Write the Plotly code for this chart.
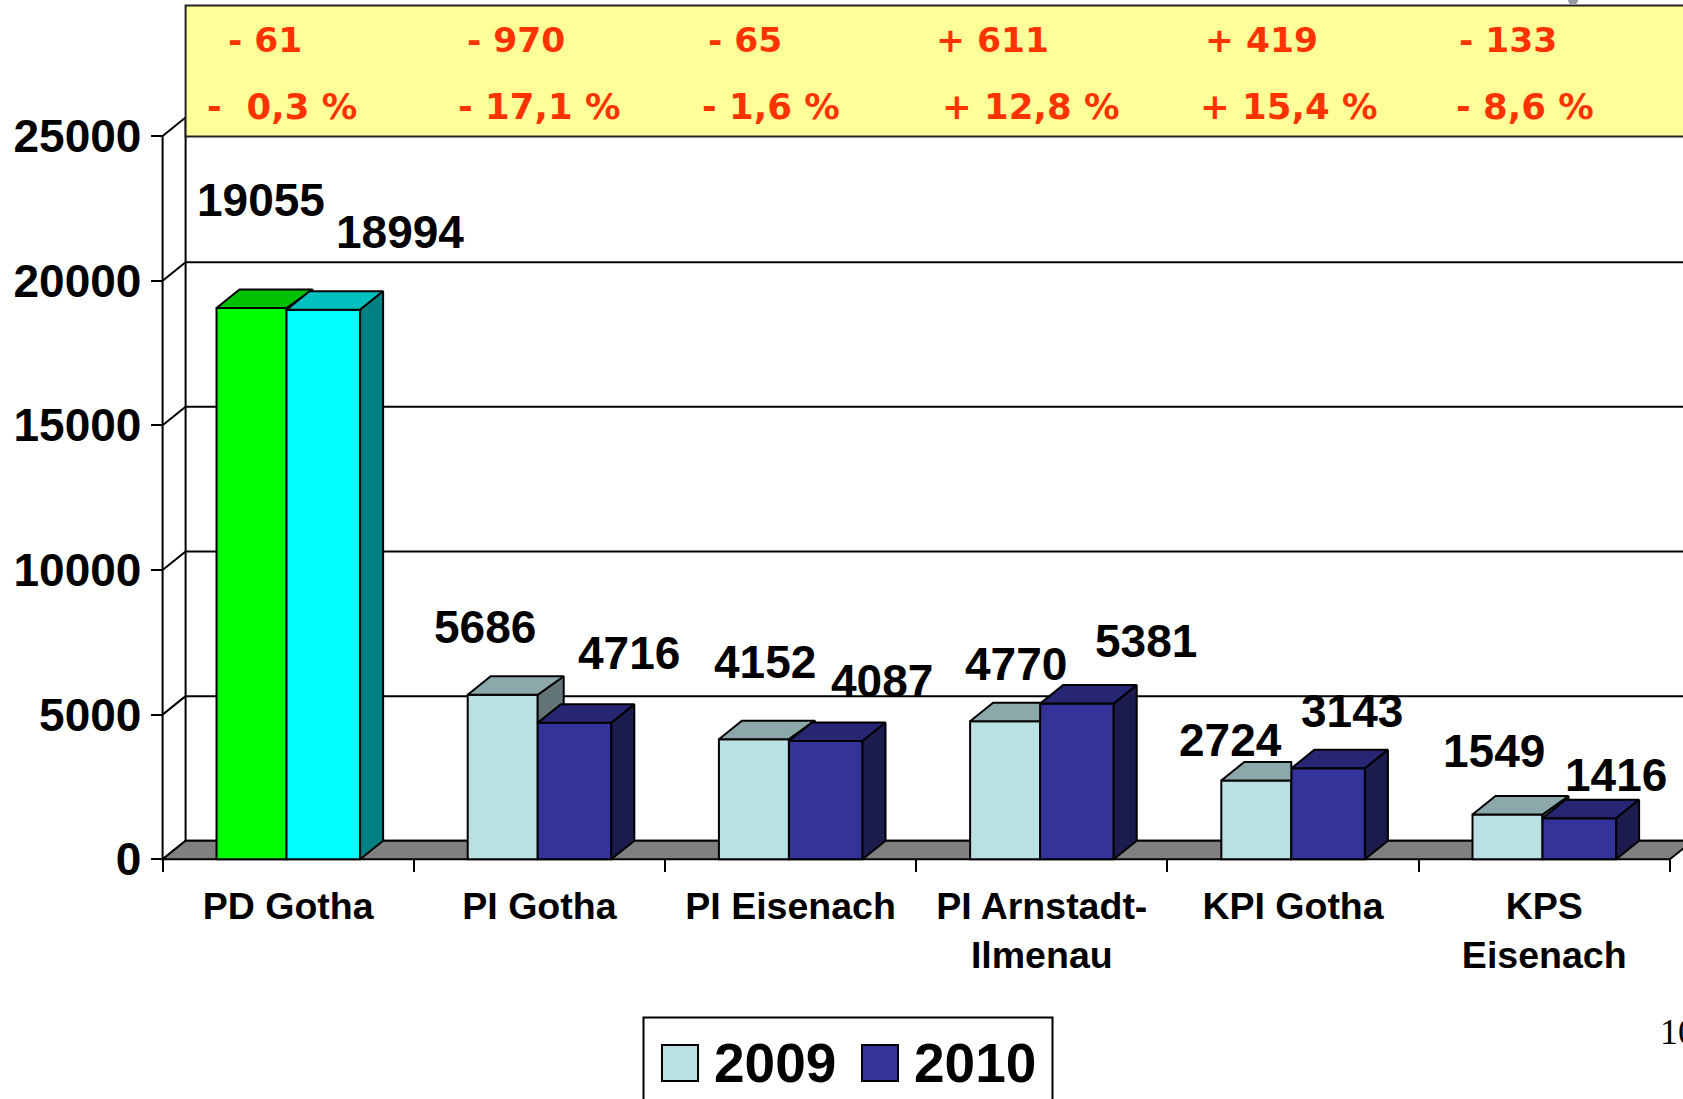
import plotly.graph_objects as go

# ---------- data ----------
categories = ["PD Gotha", "PI Gotha", "PI Eisenach", "PI Arnstadt-<br>Ilmenau", "KPI Gotha", "KPS<br>Eisenach"]
values_2009 = [19055, 5686, 4152, 4770, 2724, 1549]
values_2010 = [18994, 4716, 4087, 5381, 3143, 1416]
diff_abs = ["- 61", "- 970", "- 65", "+ 611", "+ 419", "- 133"]
diff_pct = ["-  0,3 %", "- 17,1 %", "- 1,6 %", "+ 12,8 %", "+ 15,4 %", "- 8,6 %"]
y_ticks = [0, 5000, 10000, 15000, 20000, 25000]

# ---------- layout constants (pixels) ----------
W, H = 1683, 1099
X0, CAT_W = 162.6, 251.2
Y0, PX_PER_UNIT = 859.3, 144.66 / 5000
DX, DY = 23 / CAT_W, 18.5 / PX_PER_UNIT
DXA = 26 / CAT_W

def ux(px):
    return (px - X0) / CAT_W

def uy(py):
    return (Y0 - py) / PX_PER_UNIT

A_START, A_W, B_W = 0.2146, 0.2787, 0.293
BLACK = "#000000"
FONT = "Liberation Sans"

fig = go.Figure()

# per-point colours: first group highlighted
front_a = ["#00FF00"] + ["#BBE0E3"] * 5
top_a = ["#00C000"] + ["#8DA8AA"] * 5
side_a = ["#008000"] + ["#637577"] * 5
front_b = ["#00FFFF"] + ["#333399"] * 5
top_b = ["#00C0C0"] + ["#262673"] * 5
side_b = ["#008080"] + ["#1B1B4D"] * 5

xs = list(range(len(categories)))
fig.add_bar(name="2009", x=[i + A_START + A_W / 2 for i in xs], y=values_2009, width=A_W,
            marker=dict(color=front_a, line=dict(color=BLACK, width=2)), showlegend=False, hoverinfo="skip")
fig.add_bar(name="2010", x=[i + A_START + A_W + B_W / 2 for i in xs], y=values_2010, width=B_W,
            marker=dict(color=front_b, line=dict(color=BLACK, width=2)), showlegend=False, hoverinfo="skip")


def poly(px, py, color):
    fig.add_scatter(x=px + px[:1], y=py + py[:1], mode="lines", fill="toself", fillcolor=color,
                    line=dict(color=BLACK, width=2), showlegend=False, hoverinfo="skip")


for i in xs:
    a, b = values_2009[i], values_2010[i]
    L = i + A_START
    M = L + A_W
    R = M + B_W
    if a > b:
        poly([M, M + DXA, M + DXA, M], [a, a + DY, b + DY, b], side_a[i])
        poly([L, M, M + DXA, L + DX], [a, a, a + DY, a + DY], top_a[i])
    else:
        poly([L, M, M, L + DX], [a, a, a + DY, a + DY], top_a[i])
    poly([M, R, R + DX, M + DX], [b, b, b + DY, b + DY], top_b[i])
    poly([R, R + DX, R + DX, R], [0, DY, b + DY, b], side_b[i])

# ---------- walls, floor, grid ----------
shapes = []
line = dict(color=BLACK, width=2)
x_end = len(categories)
for t in y_ticks:
    shapes.append(dict(type="line", layer="below", xref="x", yref="y", x0=0, y0=t, x1=DX, y1=t + DY, line=line))
    shapes.append(dict(type="line", layer="below", xref="x", yref="y", x0=DX, y0=t + DY, x1=x_end + DX, y1=t + DY, line=line))
shapes.append(dict(type="line", layer="below", xref="x", yref="y", x0=0, y0=0, x1=0, y1=y_ticks[-1], line=line))
shapes.append(dict(type="line", layer="below", xref="x", yref="y", x0=DX, y0=DY, x1=DX, y1=y_ticks[-1] + DY, line=line))
shapes.append(dict(type="path", layer="below", xref="x", yref="y",
                   path=f"M 0 0 L {x_end} 0 L {x_end + DX} {DY} L {DX} {DY} Z",
                   fillcolor="#808080", line=line))
# yellow difference panel
shapes.append(dict(type="rect", layer="below", xref="x", yref="y",
                   x0=DX, x1=x_end + DX, y0=uy(136.5), y1=uy(5.5), fillcolor="#FFFF99",
                   line=dict(color="#222222", width=2)))
# legend box and swatches
shapes.append(dict(type="rect", layer="below", xref="x", yref="y", x0=ux(643.5), x1=ux(1052.5), y0=uy(1110), y1=uy(1017.5),
                   fillcolor="#FFFFFF", line=line))
shapes.append(dict(type="rect", layer="above", xref="x", yref="y", x0=ux(662), x1=ux(698), y0=uy(1081), y1=uy(1045),
                   fillcolor=front_a[1], line=line))
shapes.append(dict(type="rect", layer="above", xref="x", yref="y", x0=ux(862), x1=ux(898), y0=uy(1081), y1=uy(1045),
                   fillcolor=front_b[1], line=line))
# small grey speck at the top edge
shapes.append(dict(type="circle", layer="above", xref="x", yref="y", x0=ux(1568), x1=ux(1578), y0=uy(5), y1=uy(-5),
                   fillcolor="#9A9AA5", line=dict(width=0)))

# ---------- text ----------
ann = []
def text(px, py, s, size, color=BLACK, family=FONT, bold=True, xanchor="center"):
    ann.append(dict(xref="x", yref="y", x=ux(px), y=uy(py), text=f"<b>{s}</b>" if bold else s, showarrow=False,
                    xanchor=xanchor, yanchor="middle", font=dict(family=family, size=size, color=color)))

S = 1683 / 1568
label_x_a = [243.5, 452, 713, 947, 1146, 1392]
label_y_a = [186, 584, 617, 619, 689, 700]
label_x_b = [373, 586, 822, 1068, 1260, 1506]
label_y_b = [216, 608, 634, 597, 662, 722]
for i in xs:
    text(label_x_a[i] * S, label_y_a[i] * S, str(values_2009[i]), 46)
    text(label_x_b[i] * S, label_y_b[i] * S, str(values_2010[i]), 46)

abs_x = [247, 481, 694, 925, 1175, 1405]
pct_x = [263, 503, 718, 961, 1201, 1421]
for i in xs:
    text(abs_x[i] * S, 37 * S, diff_abs[i], 34.5, color="#FF3300", family="DejaVu Sans")
    text(pct_x[i] * S, 99 * S, diff_pct[i], 35.5, color="#FF3300", family="DejaVu Sans")

text(775, 1063, "2009", 55)
text(975, 1063, "2010", 55)
text(1658, 1032, "10", 36, family="Liberation Serif", bold=False, xanchor="left")

fig.update_layout(
    width=W, height=H, margin=dict(l=0, r=0, t=0, b=0, pad=0),
    paper_bgcolor="#FFFFFF", plot_bgcolor="#FFFFFF", showlegend=False, barmode="overlay",
    shapes=shapes, annotations=ann,
    xaxis=dict(range=[ux(0), ux(W)], domain=[0, 1], anchor="free", position=(H - Y0) / H,
               tickmode="array", tickvals=[i + 0.5 for i in xs], ticktext=[f"<b>{c}</b>" for c in categories],
               ticks="", showgrid=False, zeroline=False, showline=False, ticklabelstandoff=21,
               tickfont=dict(family=FONT, size=37.5, color=BLACK),
               minor=dict(tickmode="array", tickvals=list(range(x_end + 1)), ticks="outside", ticklen=12,
                          tickwidth=2, tickcolor=BLACK, showgrid=False)),
    yaxis=dict(range=[uy(H), uy(0)], domain=[0, 1], anchor="free", position=X0 / W,
               tickmode="array", tickvals=y_ticks, ticktext=[f"<b>{t}</b>" for t in y_ticks],
               ticks="outside", ticklen=12, tickwidth=2, tickcolor=BLACK,
               showgrid=False, zeroline=False, showline=False, ticklabelstandoff=0,
               tickfont=dict(family=FONT, size=46, color=BLACK)),
)

fig.write_html("out.html", config=dict(displayModeBar=False),
               post_script="document.body.style.margin='0';document.body.style.overflow='hidden';")
